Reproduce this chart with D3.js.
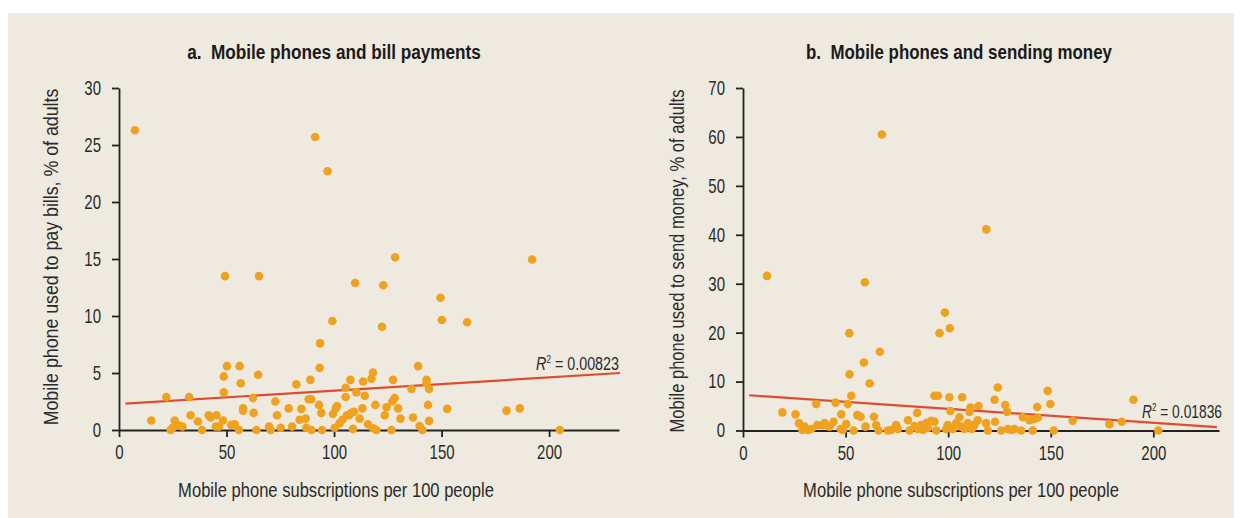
<!DOCTYPE html>
<html>
<head>
<meta charset="utf-8">
<script src="https://cdn.jsdelivr.net/npm/d3@7"></script>
<style>
  html, body { margin: 0; padding: 0; background: #ffffff; }
  svg { display: block; }
  text { font-family: "Liberation Sans", Arial, sans-serif; }
</style>
</head>
<body>
<svg id="chart" width="1241" height="518"></svg>
<script>
// Panel a: subscriptions per 100 people vs. % of adults paying bills by phone
const billSubs = [15.0, 22.0, 24.0, 25.9, 25.0, 27.9, 29.5, 32.6, 33.3, 36.7, 38.6, 41.7, 42.6, 45.3, 45.0, 46.5,
  48.4, 48.7, 48.7, 50.2, 52.2, 53.8, 56.1, 56.6, 55.8, 57.7, 57.7, 62.3, 62.6, 63.9, 64.7, 69.8, 70.5, 72.7,
  73.5, 75.2, 78.9, 80.5, 82.5, 84.0, 84.8, 86.8, 87.1, 88.2, 89.4, 89.0, 89.5, 93.0, 93.3, 94.1, 94.4, 99.5,
  100.3, 100.8, 101.4, 102.6, 103.9, 105.4, 105.4, 106.0, 107.0, 107.6, 108.0, 108.8, 110.4, 109.3, 111.9,
  113.2, 113.5, 114.3, 115.8, 117.4, 118.1, 118.1, 119.2, 119.7, 123.6, 124.4, 127.1, 128.2, 127.4, 126.7,
  129.8, 130.9, 136.0, 136.7, 139.1, 139.8, 141.1, 143.0, 143.0, 144.2, 143.7, 144.2, 152.6, 180.2, 186.4,
  205.0, 49.3, 65.1, 109.8, 99.2, 93.5, 128.4, 192.1, 122.9, 149.5, 150.1, 161.9, 122.3, 7.4, 91.2, 97.0];
const billPay = [0.83, 2.9, 0.0, 0.83, 0.2, 0.4, 0.3, 2.9, 1.3, 0.74, 0.0, 1.3, 1.1, 1.3, 0.3, 0.3,
  0.83, 3.3, 4.7, 5.6, 0.45, 0.5, 5.6, 4.1, 0.0, 1.9, 1.7, 2.8, 1.5, 0.0, 4.85, 0.3, 0.0, 2.5,
  1.3, 0.2, 1.9, 0.3, 4.0, 0.9, 1.85, 1.0, 0.2, 2.7, 2.7, 4.4, 0.0, 2.2, 5.45, 1.5, 0.0, 1.4,
  0.2, 1.9, 2.1, 0.6, 0.9, 3.7, 2.9, 1.3, 1.3, 4.4, 1.5, 0.1, 3.3, 1.6, 1.0,
  1.9, 4.25, 3.0, 0.5, 4.5, 5.05, 0.15, 2.2, 0.0, 1.3, 2.0, 2.5, 2.8, 4.4, 0.0,
  1.9, 1.0, 3.6, 1.1, 5.6, 0.35, 0.0, 4.4, 4.1, 3.6, 2.2, 0.8, 1.85, 1.7, 1.9,
  0.0, 13.5, 13.5, 12.9, 9.56, 7.6, 15.15, 14.95, 12.7, 11.6, 9.65, 9.45, 9.06, 26.3, 25.7, 22.7];
const billTrendX = [3, 233];
const billTrendY = [2.32, 5.0];
const billR2 = "0.00823";

// Panel b: subscriptions per 100 people vs. % of adults sending money by phone
const sendSubs = [19.2, 25.6, 27.3, 28.9, 30.0, 31.7, 33.3, 35.7, 36.2, 38.9, 39.8, 42.2, 44.2, 45.1, 47.6,
  47.9, 48.7, 50.3, 51.1, 51.9, 52.8, 53.9, 55.7, 57.3, 59.7, 61.7, 63.8, 64.9, 66.1, 70.6, 72.2, 74.6, 75.5,
  80.4, 81.2, 83.6, 84.9, 85.2, 86.9, 87.7, 89.3, 90.1, 91.7, 93.3, 93.3, 95.0, 94.2, 99.0, 99.8, 100.6, 101.1,
  102.3, 103.9, 105.5, 106.3, 106.8, 108.0, 109.6, 110.4, 110.9, 111.5, 112.8, 114.4, 114.8, 118.5, 119.3,
  122.6, 122.9, 124.2, 125.8, 127.8, 128.7, 129.1, 130.7, 132.3, 135.6, 136.4, 139.6, 141.2, 141.7, 143.7,
  143.4, 148.5, 149.8, 151.5, 160.7, 178.6, 184.6, 190.3, 202.4,
  11.7, 59.4, 98.4, 95.8, 100.8, 51.8, 66.7, 58.9, 67.7, 118.6];
const sendMoney = [3.7, 3.3, 1.5, 0.1, 0.8, 0.1, 0.3, 5.4, 1.1, 1.1, 1.5, 0.8, 1.8, 5.7, 0.3,
  3.3, 0.1, 1.3, 5.4, 11.5, 7.1, 0.0, 3.15, 2.8, 0.8, 9.6, 2.8, 1.1, 0.0, 0.0, 0.1, 1.1, 0.3,
  2.1, 0.0, 0.9, 3.6, 0.3, 1.1, 0.1, 1.5, 0.5, 2.0, 1.8, 7.1, 7.1, 0.0, 0.3, 1.1, 6.8, 4.0,
  0.3, 1.5, 2.7, 0.8, 6.8, 0.3, 1.5, 3.8, 4.7, 0.3, 1.1, 2.1, 5.0, 1.5, 0.0,
  6.3, 1.8, 8.8, 0.0, 5.2, 3.8, 0.3, 0.1, 0.3, 0.0, 2.7, 2.1, 0.0, 2.3, 2.6,
  4.8, 8.1, 5.4, 0.0, 2.0, 1.3, 1.8, 6.3, 0.0,
  31.6, 30.3, 24.1, 19.9, 20.9, 19.9, 16.1, 13.9, 60.5, 41.1];
const sendTrendX = [3, 231];
const sendTrendY = [7.2, 0.7];
const sendR2 = "0.01836";

// Tick values and labels
const xTicks = [0, 50, 100, 150, 200];
const billYTicks = [0, 5, 10, 15, 20, 25, 30];
const sendYTicks = [0, 10, 20, 30, 40, 50, 60, 70];
const titles = ["a.  Mobile phones and bill payments", "b.  Mobile phones and sending money"];
const xLabel = "Mobile phone subscriptions per 100 people";
const yLabels = ["Mobile phone used to pay bills, % of adults", "Mobile phone used to send money, % of adults"];

const INK = "#222222";
const TEXT = "#2a2a2a";
const DOT = "#EFA21F";
const TREND = "#E14B2D";
const NARROW = 0.75;   // horizontal squeeze giving a condensed face

const svg = d3.select("#chart");

// beige panel behind both charts
svg.append("rect")
  .attr("x", 8).attr("y", 13)
  .attr("width", 1226).attr("height", 505)
  .attr("fill", "#EEEAE0");

// Places a text at (x, y) and squeezes it horizontally to the given width.
function condensedText(parent, x, y, width, opts) {
  const t = parent.append("text")
    .attr("text-anchor", opts.anchor || "middle")
    .attr("font-size", opts.size)
    .attr("font-weight", opts.weight || "normal")
    .attr("fill", opts.fill || TEXT)
    .style("white-space", "pre");
  opts.build(t);
  const w = t.node().getBBox().width;
  const k = width / w;
  const rot = opts.rotate ? ` rotate(${opts.rotate})` : "";
  t.attr("transform", `translate(${x},${y})${rot} scale(${k},1)`);
  return t;
}

function drawPanel(opt) {
  const g = svg.append("g");
  const x = d3.scaleLinear().domain(opt.xDomain).range(opt.xRange);
  const y = d3.scaleLinear().domain(opt.yDomain).range(opt.yRange);

  // axes
  const xAxis = d3.axisBottom(x).tickValues(xTicks).tickSize(7).tickSizeOuter(0).tickPadding(8);
  const yAxis = d3.axisLeft(y).tickValues(opt.yTicks).tickSize(7).tickSizeOuter(0).tickPadding(11);

  const gx = g.append("g").attr("transform", `translate(0,${opt.yRange[0]})`).call(xAxis);
  const gy = g.append("g").attr("transform", `translate(${opt.xRange[0]},0)`).call(yAxis);
  [gx, gy].forEach(a => {
    a.select(".domain").attr("stroke", INK).attr("stroke-width", 1.8);
    a.selectAll(".tick line").attr("stroke", INK).attr("stroke-width", 1.8);
    a.selectAll(".tick text").attr("fill", TEXT).attr("font-size", 20)
      .style("font-family", '"Liberation Sans", Arial, sans-serif');
  });
  gx.selectAll(".tick text").attr("transform", `scale(${NARROW},1)`);
  gy.selectAll(".tick text")
    .attr("x", -18 / NARROW)
    .attr("transform", `scale(${NARROW},1)`);

  // regression line
  const trend = opt.trendX.map((v, i) => [v, opt.trendY[i]]);
  g.append("path")
    .datum(trend)
    .attr("d", d3.line().x(d => x(d[0])).y(d => y(d[1])))
    .attr("stroke", TREND).attr("stroke-width", 2.2).attr("fill", "none");

  // country points
  const pts = opt.xs.map((v, i) => [v, opt.ys[i]]);
  g.append("g").selectAll("circle")
    .data(pts).join("circle")
    .attr("cx", d => x(d[0])).attr("cy", d => y(d[1]))
    .attr("r", 4.3).attr("fill", DOT);

  // R-squared label
  condensedText(g, opt.r2Pos[0], opt.r2Pos[1], opt.r2Width, {
    anchor: "end", size: 17.5,
    build: t => {
      t.append("tspan").attr("font-style", "italic").text("R");
      t.append("tspan").attr("font-size", 10).attr("dy", -7).text("2");
      t.append("tspan").attr("dy", 7).text(" = " + opt.r2);
    }
  });

  // title
  condensedText(g, opt.titleX, 59, opt.titleWidth, {
    size: 20, weight: "bold", fill: "#1a1a1a",
    build: t => t.text(opt.title)
  });

  // axis titles
  condensedText(g, opt.xLabelX, 497, 316, {
    size: 20.5, build: t => t.text(xLabel)
  });
  condensedText(g, opt.yLabelX, opt.yLabelY, opt.yLabelWidth, {
    size: 20.5, rotate: -90, build: t => t.text(opt.yLabel)
  });
}

drawPanel({
  xs: billSubs, ys: billPay,
  xDomain: [0, 232.5], xRange: [119, 619],
  yDomain: [0, 30], yRange: [430, 88],
  yTicks: billYTicks,
  trendX: billTrendX, trendY: billTrendY,
  r2: billR2, r2Pos: [619, 370], r2Width: 83,
  title: titles[0], titleX: 334, titleWidth: 294,
  xLabelX: 336,
  yLabel: yLabels[0], yLabelX: 58, yLabelY: 257, yLabelWidth: 337
});

drawPanel({
  xs: sendSubs, ys: sendMoney,
  xDomain: [0, 232], xRange: [743, 1219],
  yDomain: [0, 70], yRange: [430.5, 88],
  yTicks: sendYTicks,
  trendX: sendTrendX, trendY: sendTrendY,
  r2: sendR2, r2Pos: [1222, 418], r2Width: 80,
  title: titles[1], titleX: 959, titleWidth: 307,
  xLabelX: 961,
  yLabel: yLabels[1], yLabelX: 684, yLabelY: 261, yLabelWidth: 343
});
</script>
</body>
</html>
